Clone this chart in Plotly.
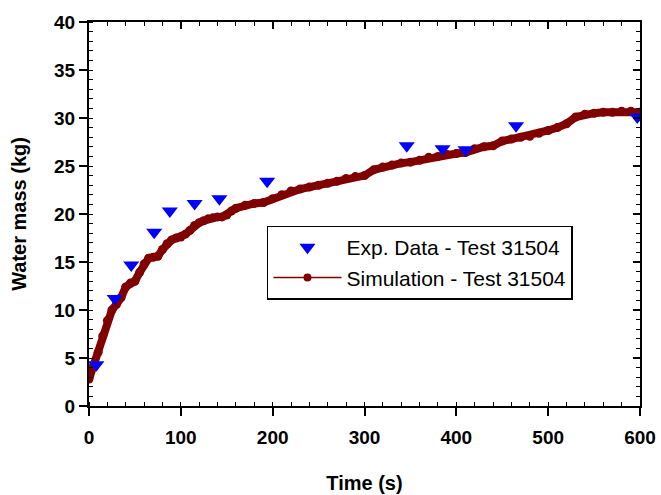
import plotly.graph_objects as go

# Experimental data (blue triangles)
exp_time = [8, 28, 46, 71, 88, 115, 142, 194, 346, 385, 410, 465, 597]
exp_mass = [4.3, 11.2, 14.7, 18.1, 20.3, 21.1, 21.6, 23.4, 27.1, 26.8, 26.7, 29.2, 30.1]

# Simulation (dark red line with markers)
sim_time = [0, 5, 10, 15, 20, 25, 30, 35, 40, 45, 50, 55, 60, 65, 70, 75, 80, 85, 90, 95,
            100, 105, 110, 115, 120, 125, 130, 135, 140, 145, 150, 155, 160, 170, 180, 190,
            200, 210, 220, 230, 240, 250, 260, 270, 280, 290, 300, 310, 320, 330, 340, 350,
            360, 370, 380, 390, 400, 410, 420, 430, 440, 450, 460, 470, 480, 490, 500, 510,
            520, 530, 540, 550, 560, 570, 580, 590, 600]
sim_mass = [2.8, 4.3, 5.6, 7.3, 8.9, 10.0, 10.6, 11.3, 12.4, 12.8, 13.0, 13.9, 14.8, 15.4,
            15.5, 15.6, 16.3, 16.9, 17.3, 17.5, 17.6, 17.9, 18.3, 18.8, 19.1, 19.3, 19.5,
            19.6, 19.7, 19.7, 19.9, 20.3, 20.6, 20.9, 21.1, 21.2, 21.6, 22.0, 22.4, 22.6,
            22.8, 23.0, 23.2, 23.4, 23.7, 23.9, 24.0, 24.6, 24.9, 25.1, 25.3, 25.4, 25.6,
            25.9, 26.0, 26.2, 26.3, 26.4, 26.8, 27.0, 27.1, 27.6, 27.8, 28.0, 28.1, 28.4,
            28.7, 29.0, 29.4, 30.1, 30.4, 30.5, 30.6, 30.6, 30.7, 30.7, 30.6]

x_ticks = [0, 100, 200, 300, 400, 500, 600]
y_ticks = [0, 5, 10, 15, 20, 25, 30, 35, 40]

RED = "#800000"
BLUE = "#0000ff"
FONT = "Liberation Sans, Arial, sans-serif"

fig = go.Figure()

# thick simulation band (no legend)
fig.add_trace(go.Scatter(
    x=sim_time, y=sim_mass, mode="lines+markers",
    line=dict(color=RED, width=8), marker=dict(color=RED, size=9, symbol="circle"),
    showlegend=False, legendgroup="sim", hoverinfo="skip"))

fig.add_trace(go.Scatter(
    x=exp_time, y=exp_mass, mode="markers", name="Exp. Data - Test 31504",
    marker=dict(color=BLUE, size=14, symbol="triangle-down", line=dict(width=0))))

# legend entry for simulation (thin line + dot)
fig.add_trace(go.Scatter(
    x=[None], y=[None], mode="lines+markers", name="Simulation - Test 31504",
    line=dict(color=RED, width=1.5), marker=dict(color=RED, size=8), legendgroup="sim"))

# placeholder on mirrored axes
fig.add_trace(go.Scatter(x=[None], y=[None], xaxis="x2", yaxis="y2", showlegend=False))

axis_common = dict(showgrid=False, zeroline=False, linecolor="black", linewidth=2,
                   tickcolor="black", tickwidth=2, automargin=False)

fig.update_layout(
    width=661, height=495,
    margin=dict(l=89, r=21, t=22, b=89, autoexpand=False),
    paper_bgcolor="white", plot_bgcolor="white",
    font=dict(family=FONT, color="black"),
    xaxis=dict(range=[0, 600], tickvals=x_ticks,
               ticktext=[f"<b>{v}</b>" for v in x_ticks],
               ticks="outside", ticklen=8,
               tickfont=dict(size=19, family=FONT),
               ticklabelstandoff=5,
               title=dict(text="<b>Time (s)</b>", font=dict(size=20), standoff=29),
               minor=dict(dtick=20, ticks="inside", ticklen=4, tickwidth=1, tickcolor="black"),
               showline=True, **axis_common),
    yaxis=dict(range=[0, 40], tickvals=y_ticks,
               ticktext=[f"<b>{v}</b>" for v in y_ticks],
               ticks="outside", ticklen=8,
               tickfont=dict(size=19, family=FONT),
               title=dict(text="<b>Water mass (kg)</b>", font=dict(size=20), standoff=22),
               minor=dict(dtick=1, ticks="inside", ticklen=4, tickwidth=1, tickcolor="black"),
               showline=True, **axis_common),
    xaxis2=dict(range=[0, 600], overlaying="x", side="top", tickvals=x_ticks, ticks="inside",
                ticklen=7, showticklabels=False,
                minor=dict(dtick=20, ticks="inside", ticklen=4, tickwidth=1, tickcolor="black"),
                showline=True, **axis_common),
    yaxis2=dict(range=[0, 40], overlaying="y", side="right", tickvals=y_ticks, ticks="inside",
                ticklen=7, showticklabels=False,
                minor=dict(dtick=1, ticks="inside", ticklen=4, tickwidth=1, tickcolor="black"),
                showline=True, **axis_common),
    legend=dict(x=0.323, y=0.47, xanchor="left", yanchor="top",
                bgcolor="white", bordercolor="black", borderwidth=1.5,
                font=dict(size=21, family=FONT), tracegroupgap=0,
                itemwidth=68),
)

fig.write_html("out.html", config={"displayModeBar": False},
               post_script="document.body.style.margin='0';")
